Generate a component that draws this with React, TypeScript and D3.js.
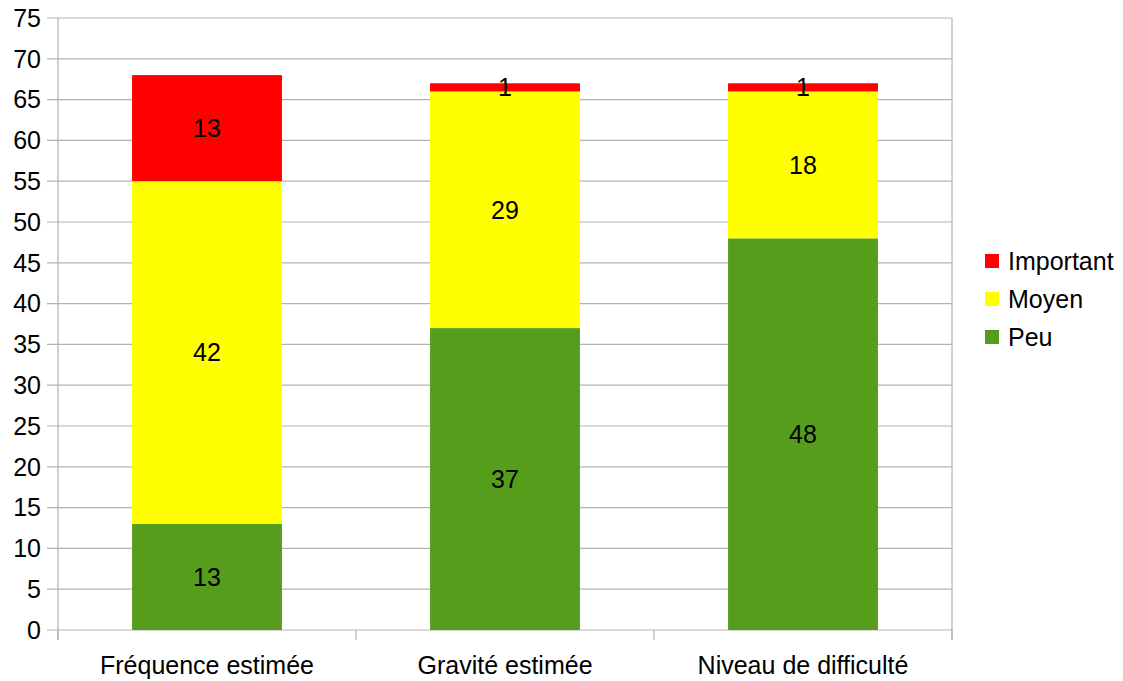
import React from "react";
import * as d3 from "d3";

const categories = ["Fréquence estimée", "Gravité estimée", "Niveau de difficulté"];
const seriesNames = ["Peu", "Moyen", "Important"];
const peu = [13, 37, 48];
const moyen = [42, 29, 18];
const important = [13, 1, 1];
const colors = ["#579d1c", "#ffff00", "#ff0000"];
const yTicks = d3.range(0, 80, 5);

export default function App() {
  const W = 1123, H = 681;
  const left = 58, right = 952, top = 18, bottom = 630;
  const x = d3.scaleBand<string>().domain(categories).range([left, right]).paddingInner(0.497).paddingOuter(0.2485);
  const y = d3.scaleLinear().domain([0, 75]).range([bottom, top]);
  const rows = categories.map((c, i) => ({ cat: c, Peu: peu[i], Moyen: moyen[i], Important: important[i] }));
  const stack = d3.stack<any>().keys(seriesNames)(rows);
  const font = "'Liberation Sans', Arial, sans-serif";
  const grid = "#b3b3b3";
  const fs = 25;
  const catBounds = d3.range(categories.length + 1).map(i => left + (right - left) * i / categories.length);
  const legendNames = [...seriesNames].reverse();
  const legendColors = [...colors].reverse();
  return (
    <svg width={W} height={H} style={{ position: "absolute", left: 0, top: 0 }} fontFamily={font}>
      <rect x={0} y={0} width={W} height={H} fill="#fff" />
      {yTicks.map(t => (
        <g key={t}>
          <line x1={left - 11} x2={right} y1={y(t)} y2={y(t)} stroke={grid} strokeWidth={1.2} />
          <text x={41} y={y(t)} dy="0.35em" textAnchor="end" fontSize={fs} fill="#000">{t}</text>
        </g>
      ))}
      <line x1={left} x2={left} y1={top} y2={bottom + 10} stroke={grid} strokeWidth={1.2} />
      <line x1={right} x2={right} y1={top} y2={bottom + 10} stroke={grid} strokeWidth={1.2} />
      {catBounds.map((b, i) => (
        <line key={i} x1={b} x2={b} y1={bottom} y2={bottom + 10} stroke={grid} strokeWidth={1.2} />
      ))}
      {stack.map((s, si) => (
        <g key={s.key}>
          {s.map((d, i) => (
            <rect key={i} x={x(categories[i])} width={x.bandwidth()} y={y(d[1])} height={y(d[0]) - y(d[1])} fill={colors[si]} />
          ))}
        </g>
      ))}
      {stack.map((s, si) => (
        <g key={s.key + "l"}>
          {s.map((d, i) => (
            <text key={i} x={(x(categories[i]) as number) + x.bandwidth() / 2} y={(y(d[0]) + y(d[1])) / 2} dy="0.35em" textAnchor="middle" fontSize={fs} fill="#000">{d[1] - d[0]}</text>
          ))}
        </g>
      ))}
      {categories.map(c => (
        <text key={c} x={(x(c) as number) + x.bandwidth() / 2} y={665} dy="0.35em" textAnchor="middle" fontSize={fs} fill="#000">{c}</text>
      ))}
      {legendNames.map((n, i) => (
        <g key={n}>
          <rect x={985} y={254 + i * 38} width={14} height={14} fill={legendColors[i]} />
          <text x={1008} y={261 + i * 38} dy="0.35em" fontSize={fs} fill="#000">{n}</text>
        </g>
      ))}
    </svg>
  );
}
